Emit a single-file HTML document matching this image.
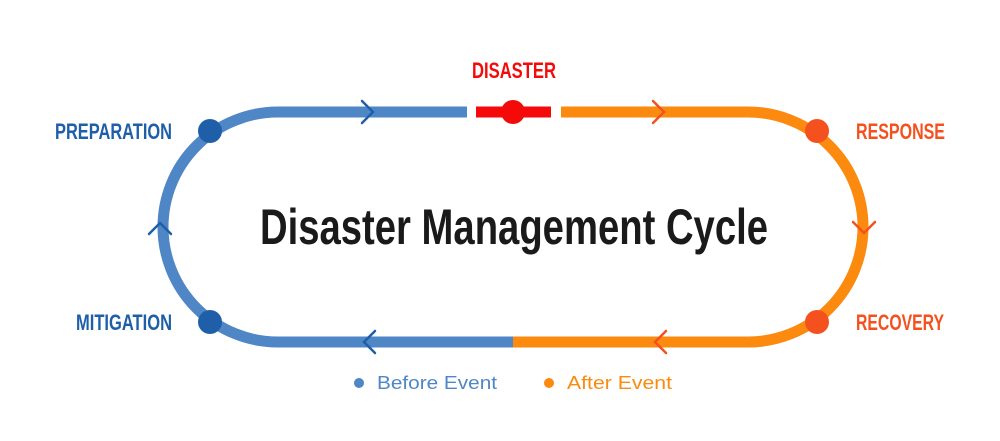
<!DOCTYPE html>
<html><head><meta charset="utf-8"><style>
html,body{margin:0;padding:0;background:#fff;}
svg{display:block;}
text{font-family:"Liberation Sans Narrow","Liberation Sans",sans-serif;font-weight:bold;}
</style></head><body>
<svg width="1000" height="441" viewBox="0 0 1000 441" xmlns="http://www.w3.org/2000/svg">
<g fill="none" stroke-width="11">
<path d="M467 112 H278 A115 115 0 0 0 278 342 H513" stroke="#4f86c6"/>
<path d="M561 112 H748 A115 115 0 0 1 748 342 H513" stroke="#fb8a0f"/>
<path d="M476 112 H551" stroke="#f50a0a"/>
</g>
<g fill="none" stroke-width="2.5" stroke-linecap="round" stroke-linejoin="miter">
<path d="M362 101 L373 112 L362 123" stroke="#1f5fa8"/>
<path d="M653 101 L664 112 L653 123" stroke="#f4511e"/>
<path d="M853 222 L864 233 L875 222" stroke="#f4511e"/>
<path d="M666 331 L655 342 L666 353" stroke="#f4511e"/>
<path d="M375 331 L364 342 L375 353" stroke="#1f5fa8"/>
<path d="M149 234 L160 223 L171 234" stroke="#1f5fa8"/>
</g>
<circle cx="513" cy="112" r="12" fill="#f50a0a"/>
<circle cx="210" cy="131" r="12" fill="#1f5fa8"/>
<circle cx="210" cy="322" r="12" fill="#1f5fa8"/>
<circle cx="817" cy="131" r="12" fill="#f4511e"/>
<circle cx="817" cy="322" r="12" fill="#f4511e"/>
<g font-size="22">
<text x="514" y="78" text-anchor="middle" fill="#f50a0a" textLength="84" lengthAdjust="spacingAndGlyphs">DISASTER</text>
<text x="55" y="139" fill="#1f5fa8" textLength="117" lengthAdjust="spacingAndGlyphs">PREPARATION</text>
<text x="76" y="330" fill="#1f5fa8" textLength="96" lengthAdjust="spacingAndGlyphs">MITIGATION</text>
<text x="856" y="139" fill="#f4511e" textLength="89" lengthAdjust="spacingAndGlyphs">RESPONSE</text>
<text x="856" y="330" fill="#f4511e" textLength="88" lengthAdjust="spacingAndGlyphs">RECOVERY</text>
</g>
<text x="260" y="244" font-size="50" fill="#1a1a1a" textLength="508" lengthAdjust="spacingAndGlyphs">Disaster Management Cycle</text>
<circle cx="359" cy="383" r="5" fill="#4f86c6"/>
<text x="377" y="389" font-size="18" font-weight="normal" style="font-weight:normal" fill="#4f86c6" textLength="120" lengthAdjust="spacingAndGlyphs">Before Event</text>
<circle cx="549" cy="383" r="5" fill="#fb8a0f"/>
<text x="567" y="389" font-size="18" style="font-weight:normal" fill="#fb8a0f" textLength="105" lengthAdjust="spacingAndGlyphs">After Event</text>
</svg>
</body></html>
